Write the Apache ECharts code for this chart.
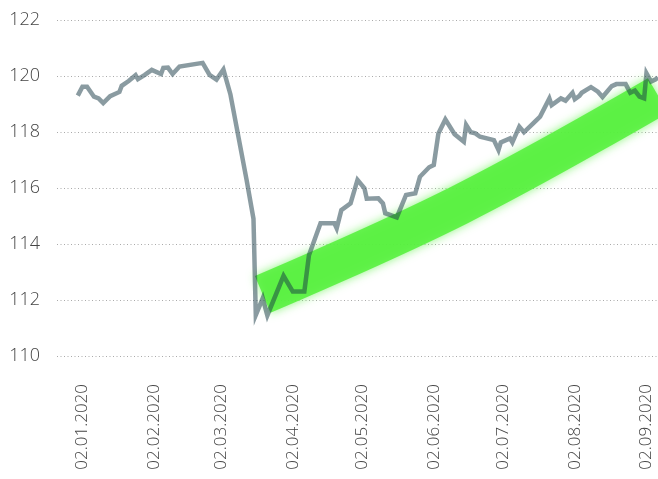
<!DOCTYPE html>
<html>
<head>
<meta charset="utf-8">
<script src="https://cdn.jsdelivr.net/npm/echarts@6/dist/echarts.min.js"></script>
<style>
html,body{margin:0;padding:0;background:#fff;}
#chart{width:658px;height:479px;}
</style>
</head>
<body>
<div id="chart"></div>
<script>
// Axis range (calendar days)
const axisStart = '2019-12-22';
const axisEnd = '2020-09-07';
const yTicks = [110, 112, 114, 116, 118, 120, 122];

// Gray price line
const lineDates = [
  '2019-12-31','2020-01-02','2020-01-04','2020-01-07','2020-01-09','2020-01-11','2020-01-14','2020-01-18','2020-01-19',
  '2020-01-22','2020-01-25','2020-01-26','2020-01-29','2020-02-01','2020-02-05','2020-02-06','2020-02-08','2020-02-10',
  '2020-02-13','2020-02-23','2020-02-26','2020-02-29','2020-03-03','2020-03-06','2020-03-13','2020-03-16','2020-03-17',
  '2020-03-20','2020-03-22','2020-03-29','2020-04-02','2020-04-07','2020-04-09','2020-04-14','2020-04-20','2020-04-21',
  '2020-04-23','2020-04-27','2020-04-30','2020-05-03','2020-05-04','2020-05-09','2020-05-11','2020-05-12','2020-05-17',
  '2020-05-21','2020-05-25','2020-05-27','2020-05-31','2020-06-02','2020-06-04','2020-06-07','2020-06-11','2020-06-15',
  '2020-06-16','2020-06-18','2020-06-20','2020-06-22','2020-06-28','2020-06-30','2020-07-01','2020-07-05','2020-07-06',
  '2020-07-09','2020-07-11','2020-07-15','2020-07-18','2020-07-22','2020-07-23','2020-07-27','2020-07-29','2020-08-01',
  '2020-08-02','2020-08-04','2020-08-05','2020-08-09','2020-08-12','2020-08-14','2020-08-18','2020-08-20','2020-08-24',
  '2020-08-26','2020-08-28','2020-08-30','2020-09-01','2020-09-02','2020-09-04','2020-09-06','2020-09-07'
];
const lineValues = [
  119.3,119.62,119.62,119.26,119.2,119.03,119.28,119.43,119.65,
  119.82,120.03,119.89,120.04,120.22,120.07,120.29,120.3,120.07,
  120.34,120.47,120.04,119.87,120.23,119.35,116.3,114.9,111.46,
  112.06,111.45,112.86,112.3,112.3,113.6,114.74,114.74,114.56,
  115.21,115.45,116.29,115.99,115.62,115.63,115.45,115.1,114.95,
  115.75,115.81,116.4,116.74,116.82,117.95,118.45,117.92,117.65,
  118.25,117.99,117.95,117.83,117.71,117.36,117.63,117.77,117.63,
  118.19,117.99,118.31,118.55,119.2,118.96,119.2,119.12,119.4,
  119.17,119.29,119.4,119.6,119.44,119.25,119.64,119.71,119.71,
  119.4,119.48,119.26,119.2,120.1,119.8,119.88,119.95
];

// Green trend band (centre line)
const bandDates = ['2020-03-20','2020-06-13','2020-09-07'];
const bandValues = [112.2, 115.39, 119.3];

function fmt(d){
  const dd = String(d.getUTCDate()).padStart(2,'0');
  const mm = String(d.getUTCMonth()+1).padStart(2,'0');
  return dd + '.' + mm + '.' + d.getUTCFullYear();
}
const categories = [];
const isoIndex = {};
{
  let t = Date.parse(axisStart + 'T00:00:00Z');
  const end = Date.parse(axisEnd + 'T00:00:00Z');
  while (t <= end) {
    const d = new Date(t);
    isoIndex[d.toISOString().slice(0,10)] = categories.length;
    categories.push(fmt(d));
    t += 86400000;
  }
}
const lineData = lineDates.map((d,i)=>[isoIndex[d], lineValues[i]]);
const bandData = bandDates.map((d,i)=>[isoIndex[d], bandValues[i]]);

const chart = echarts.init(document.getElementById('chart'), null, {renderer:'canvas'});
chart.setOption({
  animation:false,
  backgroundColor:'#fff',
  grid:{left:57, right:0, top:20, bottom:123, containLabel:false},
  xAxis:{
    type:'category',
    data:categories,
    boundaryGap:false,
    axisLine:{show:false},
    axisTick:{show:false},
    splitLine:{show:false},
    axisLabel:{
      rotate:90,
      margin:28,
      fontFamily:'Open Sans',
      fontWeight:300,
      fontSize:17,
      color:'#444',
      interval:function(idx, val){ return val.slice(0,3) === '02.'; }
    }
  },
  yAxis:{
    type:'value',
    min:yTicks[0],
    max:yTicks[yTicks.length-1],
    interval:2,
    axisLine:{show:false},
    axisTick:{show:false},
    axisLabel:{
      margin:17,
      fontFamily:'Open Sans',
      fontWeight:300,
      fontSize:18,
      color:'#444'
    },
    splitLine:{show:true, lineStyle:{color:'#aaa', width:1, type:[1,2.5]}}
  },
  series:[
    {
      type:'line',
      data:bandData,
      smooth:0.4,
      symbol:'none',
      z:2,
      lineStyle:{
        width:40,
        color:'rgba(85,240,60,0.88)',
        cap:'butt',
        shadowBlur:10,
        shadowColor:'rgba(85,240,60,0.75)'
      }
    },
    {
      type:'line',
      data:lineData,
      symbol:'none',
      z:3,
      lineStyle:{
        width:4.5,
        color:'rgba(21,55,67,0.5)',
        join:'miter'
      }
    }
  ]
});
</script>
</body>
</html>
